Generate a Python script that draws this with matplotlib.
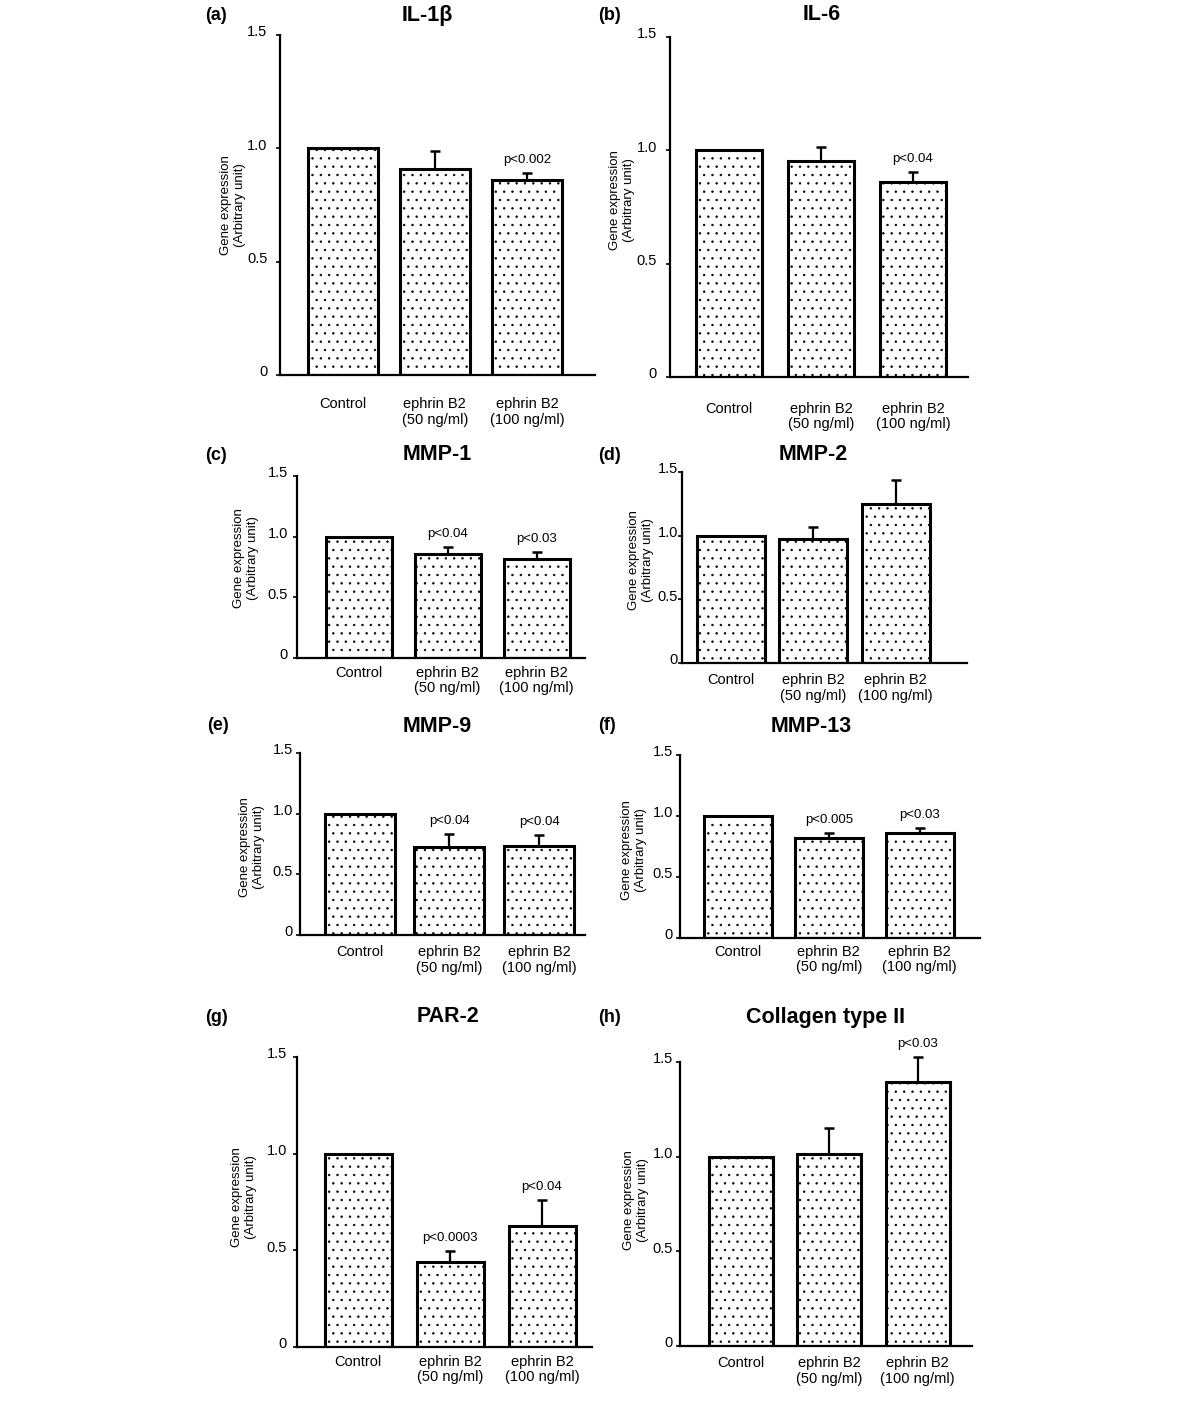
import numpy as np
import matplotlib
matplotlib.use('Agg')
import matplotlib.pyplot as plt
import matplotlib.transforms as mtransforms

plt.rcParams['font.family'] = ['Liberation Sans', 'DejaVu Sans']
plt.rcParams['hatch.linewidth'] = 0.5
plt.rcParams['hatch.color'] = '#222222'

# ---- data ----
categories = ['Control', 'ephrin B2\n(50 ng/ml)', 'ephrin B2\n(100 ng/ml)']
yticks = [0, 0.5, 1.0, 1.5]
yticklabels = ['0', '0.5', '1.0', '1.5']
ylabel = 'Gene expression\n(Arbitrary unit)'

letters = ['(a)', '(b)', '(c)', '(d)', '(e)', '(f)', '(g)', '(h)']
titles = ['IL-1β', 'IL-6', 'MMP-1', 'MMP-2', 'MMP-9', 'MMP-13', 'PAR-2', 'Collagen type II']

il1b = [1.0, 0.91, 0.86]
il1b_err = [np.nan, 0.08, 0.033]
il6 = [1.0, 0.955, 0.86]
il6_err = [np.nan, 0.06, 0.044]
mmp1 = [1.0, 0.857, 0.816]
mmp1_err = [np.nan, 0.061, 0.06]
mmp2 = [1.0, 0.975, 1.247]
mmp2_err = [np.nan, 0.09, 0.19]
mmp9 = [1.0, 0.722, 0.733]
mmp9_err = [np.nan, 0.11, 0.09]
mmp13 = [1.0, 0.823, 0.859]
mmp13_err = [np.nan, 0.036, 0.041]
par2 = [1.0, 0.438, 0.624]
par2_err = [np.nan, 0.057, 0.138]
col2 = [1.0, 1.013, 1.396]
col2_err = [np.nan, 0.141, 0.131]

pvals_a = [None, None, 'p<0.002']
pvals_b = [None, None, 'p<0.04']
pvals_c = [None, 'p<0.04', 'p<0.03']
pvals_d = [None, None, None]
pvals_e = [None, 'p<0.04', 'p<0.04']
pvals_f = [None, 'p<0.005', 'p<0.03']
pvals_g = [None, 'p<0.0003', 'p<0.04']
pvals_h = [None, None, 'p<0.03']

means = [il1b, il6, mmp1, mmp2, mmp9, mmp13, par2, col2]
errs = [il1b_err, il6_err, mmp1_err, mmp2_err, mmp9_err, mmp13_err, par2_err, col2_err]
pvals = [pvals_a, pvals_b, pvals_c, pvals_d, pvals_e, pvals_f, pvals_g, pvals_h]

# ---- layout in pixels ----
# axis left, axis right, y of 0, y of 1.5, first bar centre, bar spacing, bar width,
# ytick pad (pt), xtick pad (pt), letter (x, y), title (x, y), ylabel (x, y)
layout = [
    (280, 595, 375, 35, 342.5, 92.3, 70, 6, 16, (205, 15), (427, 15), (233, 205)),
    (670, 968, 377, 37, 729, 92, 66, 6.5, 18, (598, 15), (822, 15), (622, 200)),
    (297, 585, 658, 476, 358.5, 89, 66, 3.6, 5.5, (205, 455), (437, 455), (246, 558)),
    (682, 967, 663, 472, 731, 82.3, 68, 0, 7.5, (598, 455), (813, 455), (641, 560)),
    (300, 585, 935, 753, 359.5, 89.8, 70, 2, 7.5, (207, 726), (437, 726), (252, 847)),
    (680, 980, 938, 755, 738, 90.8, 68, 2, 5, (598, 725), (811, 727), (634, 850)),
    (297, 592, 1347, 1057, 358, 92, 67, 4.3, 5.5, (205, 1017), (448, 1017), (244, 1197)),
    (680, 972, 1346, 1062, 741, 88.3, 64, 2, 7.5, (598, 1017), (825, 1017), (636, 1200)),
]

W, H = 1200, 1402
fig = plt.figure(figsize=(W / 100, H / 100), dpi=100)

x = np.arange(len(categories))
for i in range(8):
    L, R, y0, y15, c0, s, bw, ypad, xpad, let_xy, tit_xy, yl_xy = layout[i]
    ax = fig.add_axes([L / W, 1 - y0 / H, (R - L) / W, (y0 - y15) / H])
    ax.set_xlim((L - c0) / s, (R - c0) / s)
    ax.set_ylim(0, 1.5)

    ax.bar(x, means[i], width=bw / s, color='white', edgecolor='black',
           linewidth=2.2, hatch='..', zorder=2)
    up = np.nan_to_num(np.array(errs[i]))
    ax.errorbar(x[1:], means[i][1:], yerr=[np.zeros(2), up[1:]], fmt='none',
                ecolor='black', elinewidth=1.6, capsize=3.5, capthick=1.8,
                clip_on=False, zorder=1)
    for j, p in enumerate(pvals[i]):
        if p:
            ax.annotate(p, (x[j], means[i][j] + up[j]), xytext=(0, 5),
                        textcoords='offset points', ha='center', va='bottom',
                        fontsize=9.5, annotation_clip=False)

    for sp in ['top', 'right']:
        ax.spines[sp].set_visible(False)
    ax.spines['left'].set_linewidth(1.6)
    ax.spines['bottom'].set_linewidth(1.6)

    ax.set_yticks(yticks)
    ax.set_yticklabels(yticklabels, fontsize=10.5)
    ax.tick_params(axis='y', length=3, width=1.2, pad=ypad)
    offset = mtransforms.ScaledTranslation(0, 3 / 72, fig.dpi_scale_trans)
    for lbl in ax.get_yticklabels():
        lbl.set_transform(lbl.get_transform() + offset)

    ax.set_xticks(x)
    ax.set_xticklabels(categories, fontsize=10.5, linespacing=1.12)
    ax.tick_params(axis='x', length=0, pad=xpad)

    fig.text(let_xy[0] / W, 1 - let_xy[1] / H, letters[i], fontsize=13,
             fontweight='bold', ha='left', va='center')
    fig.text(tit_xy[0] / W, 1 - tit_xy[1] / H, titles[i], fontsize=15.5,
             fontweight='bold', ha='center', va='center')
    fig.text(yl_xy[0] / W, 1 - yl_xy[1] / H, ylabel, fontsize=9.5,
             rotation=90, ha='center', va='center', linespacing=1.15)

fig.savefig('out.png', dpi=100)
